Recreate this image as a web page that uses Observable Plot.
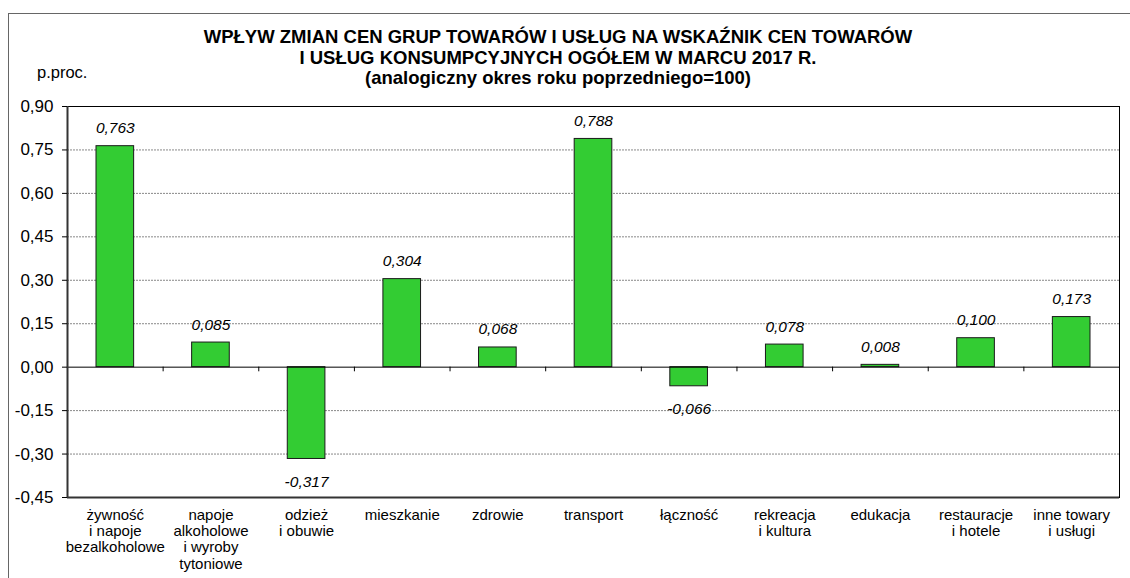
<!DOCTYPE html>
<html><head><meta charset="utf-8">
<script src="https://cdn.jsdelivr.net/npm/d3@7"></script>
<script src="https://cdn.jsdelivr.net/npm/@observablehq/plot@0.6"></script>
<style>
body{margin:0;background:#fff;font-family:Arial,"Liberation Sans",sans-serif;}
#wrap{position:relative;width:1130px;height:578px;overflow:hidden;background:#fff;}
#frame{position:absolute;left:8px;top:13px;width:1200px;height:700px;border-top:1px solid #666;border-left:1px solid #666;}
#title{position:absolute;left:0;width:1116px;top:27px;text-align:center;font-weight:bold;font-size:18.5px;line-height:20.5px;color:#000;}
#unit{position:absolute;left:37px;top:63px;font-size:16.5px;color:#000;}
#chart{position:absolute;left:0;top:0;}
</style>
</head><body>
<div id="wrap">
<div id="frame"></div>
<div id="chart"></div>
<div id="title">WPŁYW ZMIAN CEN GRUP TOWARÓW I USŁUG NA WSKAŹNIK CEN TOWARÓW<br>I USŁUG KONSUMPCYJNYCH OGÓŁEM W MARCU 2017 R.<br>(analogiczny okres roku poprzedniego=100)</div>
<div id="unit">p.proc.</div>
</div>
<script>
const categories = [
  "żywność\ni napoje\nbezalkoholowe",
  "napoje\nalkoholowe\ni wyroby\ntytoniowe",
  "odzież\ni obuwie",
  "mieszkanie",
  "zdrowie",
  "transport",
  "łączność",
  "rekreacja\ni kultura",
  "edukacja",
  "restauracje\ni hotele",
  "inne towary\ni usługi"
];
const values = [0.763, 0.085, -0.317, 0.304, 0.068, 0.788, -0.066, 0.078, 0.008, 0.100, 0.173];
const yTicks = [-0.45, -0.30, -0.15, 0.00, 0.15, 0.30, 0.45, 0.60, 0.75, 0.90];

const data = categories.map((c, i) => ({cat: c, v: values[i]}));
const loc = d3.formatLocale({decimal: ",", thousands: " ", grouping: [3], currency: ["", ""], minus: "-"});
const f2 = loc.format(".2f");
const f3 = loc.format(".3f");

const W = 1130, H = 578;
const mL = 67, mR = 11, mT = 106, mB = 81;
const bw = (W - mL - mR) / categories.length;

const chart = Plot.plot({
  width: W, height: H,
  marginLeft: mL, marginRight: mR, marginTop: mT, marginBottom: mB,
  style: {fontFamily: "Arial, 'Liberation Sans', sans-serif", background: "transparent", color: "#000"},
  x: {type: "band", domain: categories, padding: 0, round: false},
  y: {type: "linear", domain: [-0.45, 0.90]},
  marks: [
    Plot.ruleY(yTicks.filter(d => d !== 0 && d !== 0.90 && d !== -0.45), {stroke: "#888", strokeDasharray: "2,1", strokeWidth: 1}),
    Plot.barY(data, {x: "cat", y: "v", fill: "#33CC33", stroke: "#1a1a1a", strokeWidth: 1, insetLeft: 29, insetRight: 29}),
    Plot.ruleY([0], {stroke: "#000", strokeWidth: 1}),
    Plot.ruleX(categories.slice(1), {x: d => d, y1: 0, y2: -0.016, dx: -bw / 2, stroke: "#000"}),
    Plot.text(data.filter(d => d.v >= 0), {x: "cat", y: "v", text: d => f3(d.v), dy: -18, fontSize: 15.5, fontStyle: "italic", fill: "#000"}),
    Plot.text(data.filter(d => d.v < 0), {x: "cat", y: "v", text: d => f3(d.v), dy: 23, fontSize: 15.5, fontStyle: "italic", fill: "#000"}),
    Plot.frame({stroke: "#000", strokeWidth: 1}),
    Plot.ruleY([-0.45], {stroke: "#333", strokeWidth: 2}),
    Plot.ruleX([categories[0]], {x: d => d, dx: -bw / 2, stroke: "#333", strokeWidth: 2}),
    Plot.axisY({ticks: yTicks, tickFormat: f2, tickSize: 5, tickPadding: 9, fontSize: 17, label: null}),
    Plot.axisX({tickSize: 0, tickPadding: 11, fontSize: 15, lineHeight: 1.08, label: null})
  ]
});
document.getElementById("chart").appendChild(chart);
</script>
</body></html>
